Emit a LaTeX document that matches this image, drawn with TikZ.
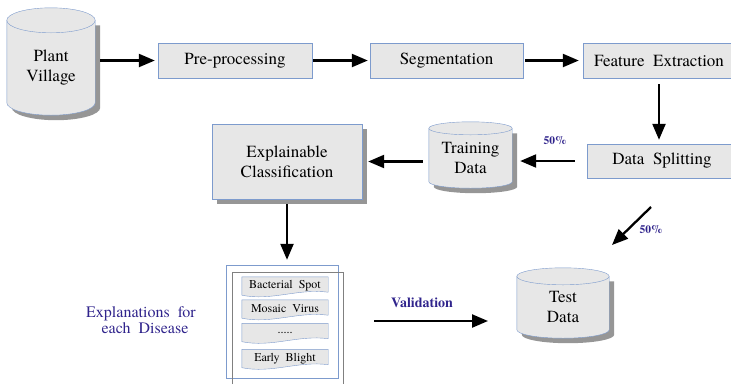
\documentclass[tikz,border=0pt]{standalone}
\usepackage{fontspec}
\setmainfont{TeX Gyre Termes}
\usetikzlibrary{calc, arrows.meta, shadows, backgrounds}
\definecolor{boxfill}{RGB}{231,231,231}
\definecolor{boxline}{RGB}{125,155,205}
\definecolor{shadowgray}{RGB}{150,150,150}
\definecolor{labblue}{RGB}{48,36,140}

% cylinder drawn round node #1, end radius #2 (pt)
\newcommand{\dbshape}[2]{%
  \fill[shadowgray] let \p1=(#1.north west), \p2=(#1.south east), \n1={(\x2-\x1)/2} in
    (\x1+5pt,\y1-5pt) -- (\x1+5pt,\y2+#2pt-5pt)
    arc[start angle=180, end angle=360, x radius=\n1, y radius=#2pt] -- (\x2+5pt,\y1-5pt) -- cycle;
  \draw[boxline, fill=boxfill] let \p1=(#1.north west), \p2=(#1.south east), \n1={(\x2-\x1)/2} in
    (\x1,\y1) -- (\x1,\y2+#2pt)
    arc[start angle=180, end angle=360, x radius=\n1, y radius=#2pt] -- (\x2,\y1);
  \draw[boxline, fill=boxfill] let \p1=(#1.north west), \p2=(#1.south east), \n1={(\x2-\x1)/2} in
    (\x1+\n1,\y1) ellipse[x radius=\n1, y radius=#2pt];
}
% page with wavy bottom round node #1
\newcommand{\docshape}[1]{%
  \draw[boxline, fill=boxfill] let \p1=(#1.north west), \p2=(#1.south east) in
    (\x1,\y1) -- (\x2,\y1) -- (\x2,\y2+3pt)
    .. controls (\x2-30pt,\y2+7pt) and (\x1+30pt,\y2-6pt) .. (\x1,\y2) -- cycle;
}

\begin{document}
\begin{tikzpicture}[x=1pt, y=-1pt, font=\fontsize{17}{20}\selectfont,
    proc/.style={draw=boxline, fill=boxfill, minimum height=35pt, inner sep=0pt},
    db/.style={inner sep=0pt, align=center},
    item/.style={inner sep=0pt, minimum width=86pt, minimum height=18pt, font=\fontsize{12}{14}\selectfont},
    note/.style={text=labblue, inner sep=0pt},
    flow/.style={line width=2.3pt, -{Triangle[length=16pt,width=13pt]}}]
\useasboundingbox (0,0) rectangle (731,384);

% storage
\node[db, minimum width=88pt, minimum height=94.5pt] (pv) at (51,67.75) {Plant\\Village};
\node[db, minimum width=83pt, minimum height=59.5pt] (td) at (470.5,158.25) {Training\\Data};
\node[db, minimum width=92pt, minimum height=61.5pt] (te) at (563,307.25) {Test\\Data};

% processing steps
\node[proc, minimum width=154pt] (pp) at (235,60.5) {Pre-processing};
\node[proc, minimum width=153pt] (seg) at (446.5,60.5) {Segmentation};
\node[proc, minimum width=152pt] (fe) at (659,60.5) {Feature\ \ Extraction};
\node[proc, minimum width=150pt, minimum height=34pt] (ds) at (662,161) {Data\ \ Splitting};
\node[proc, minimum width=150pt, minimum height=75pt, align=center,
  drop shadow={shadow xshift=5pt, shadow yshift=-5pt, fill=shadowgray, opacity=1}] (ec) at (287,161.5) {Explainable\\Classification};

% explanations
\node[draw=boxline, minimum width=112pt, minimum height=113pt] (lst) at (282,321.5) {};
\draw[gray] (232,384) |- (343,272) -- (343,384);
\node[item] (i1) at (285,286) {Bacterial\ \ Spot};
\node[item] (i2) at (285,309) {Mosaic\ \ Virus};
\node[item] (i3) at (285,332.5) {.....};
\node[item] (i4) at (285,358.5) {Early\ \ Blight};

\begin{pgfonlayer}{background}
  \dbshape{pv}{12.5}
  \dbshape{td}{6.5}
  \dbshape{te}{8.5}
  \docshape{i1}
  \docshape{i2}
  \docshape{i3}
  \docshape{i4}
\end{pgfonlayer}

% labels
\node[note, align=center, font=\fontsize{16}{16}\selectfont] (expl) at (141,320) {Explanations\ \ for\\\ \ each\ \ Disease};
\node[note, font=\fontsize{14}{16}\selectfont\bfseries] (val) at (422,303) {Validation};
\node[note, font=\fontsize{11.5}{13}\selectfont\bfseries] (pa) at (555,141) {50\%};
\node[note, font=\fontsize{11.5}{13}\selectfont\bfseries] (pb) at (651,230) {50\%};

% arrows
\draw[flow, shorten <=5pt, shorten >=3pt] (pv.east |- pp.west) -- (pp.west);
\draw[flow, shorten <=1pt, shorten >=2pt] (pp) -- (seg);
\draw[flow, shorten <=2pt, shorten >=4pt] (seg) -- (fe);
\draw[flow, shorten <=6pt, shorten >=4pt] (fe.south) -- (fe.south |- ds.north);
\draw[flow, shorten <=12pt, shorten >=8pt] (ds.west) -- (td.east |- ds.west);
\draw[flow, shorten <=6pt, shorten >=6pt] (td.west |- ec.east) -- (ec.east);
\draw[flow, shorten <=5pt, shorten >=5pt] (ec.south) -- (ec.south |- lst.north);
\coordinate (v1) at (374,321);
\coordinate (v2) at (488,321);
\draw[flow] (v1) -- (v2);
\coordinate (s1) at (651,207);
\coordinate (s2) at (612,245);
\draw[flow] (s1) -- (s2);
\end{tikzpicture}
\end{document}
